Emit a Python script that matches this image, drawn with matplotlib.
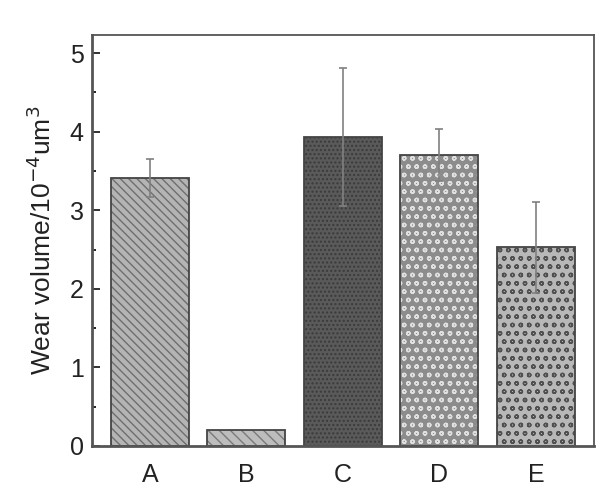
import matplotlib
matplotlib.use('Agg')
import matplotlib.pyplot as plt
import numpy as np

plt.rcParams['font.family'] = ['Liberation Sans', 'DejaVu Sans']
plt.rcParams['hatch.linewidth'] = 1.0

# Data
labels = ['A', 'B', 'C', 'D', 'E']
wear = [3.41, 0.20, 3.93, 3.70, 2.53]
err = [0.24, 0.0, 0.88, 0.33, 0.58]

faces = ['#b4b4b4', '#bdbdbd', '#5a5a5a', '#8c8c8c', '#b8b8b8']
hatches = ['\\\\\\\\', '\\\\\\', '....', 'oo', 'oo']
hatch_cols = ['#6e6e6e', '#7a7a7a', '#3a3a3a', '#e0e0e0', '#505050']

x = np.arange(len(labels))

fig = plt.figure(figsize=(6.01, 4.95), dpi=100)
ax = fig.add_axes([0.153, 0.099, 0.835, 0.830])

for i in range(len(labels)):
    ax.bar(x[i], wear[i], 0.81, color=faces[i], edgecolor=hatch_cols[i],
           hatch=hatches[i], linewidth=0)
    ax.bar(x[i], wear[i], 0.81, fill=False, edgecolor='#444444', linewidth=1.3)
    if err[i] > 0:
        ax.errorbar(x[i], wear[i], yerr=err[i], fmt='none', ecolor='#808080',
                    elinewidth=1.2, capsize=3, capthick=1.2)

ax.set_xlim(-0.6, 4.6)
ax.set_ylim(0, 5.23)
ax.set_xticks(x)
ax.set_xticklabels(labels)
ax.set_yticks([0, 1, 2, 3, 4, 5])
ax.set_yticks(np.arange(0.5, 5.0, 1.0), minor=True)
ax.tick_params(axis='y', which='major', direction='in', length=6, width=1.3,
               labelsize=18, colors='#222222', pad=6)
ax.tick_params(axis='y', which='minor', direction='in', length=3, width=1.2)
ax.tick_params(axis='x', length=0, labelsize=18, colors='#222222', pad=12)
ax.set_ylabel('Wear volume/10$^{-4}$um$^3$', fontsize=19, color='#222222', labelpad=10)

for s in ax.spines.values():
    s.set_color('#555555')
    s.set_linewidth(1.3)
ax.spines['left'].set_linewidth(2)
ax.spines['bottom'].set_linewidth(2)

fig.savefig('out.png', dpi=100)
